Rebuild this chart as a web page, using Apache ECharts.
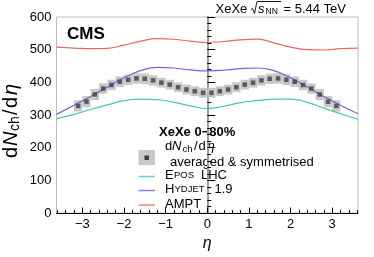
<!DOCTYPE html>
<html><head><meta charset="utf-8">
<script src="https://cdn.jsdelivr.net/npm/echarts@6/dist/echarts.min.js"></script>
<style>html,body{margin:0;padding:0;background:#fff}#c{width:374px;height:257px}</style>
</head><body><div id="c"></div>
<script>
// ---- data ----
const etaPoints = [-3.1,-2.9,-2.7,-2.5,-2.3,-2.1,-1.9,-1.7,-1.5,-1.3,-1.1,-0.9,-0.7,-0.5,-0.3,-0.1,
                   0.1,0.3,0.5,0.7,0.9,1.1,1.3,1.5,1.7,1.9,2.1,2.3,2.5,2.7,2.9,3.1];
const dataValues = [328,341,363,381,392,402,408,412,411,406,399,393,385,378,373,368,
                    368,373,378,385,393,399,406,411,412,408,402,392,381,363,341,328];
const dataErrors = [17,17,17,16,16,16,16,16,16,16,15,15,15,15,15,15,
                    15,15,15,15,15,15,16,16,16,16,16,16,16,17,17,17];
const modelEta = [-3.62,-3.2,-2.8,-2.4,-2.0,-1.6,-1.2,-0.8,-0.4,0,0.4,0.8,1.2,1.6,2.0,2.4,2.8,3.2,3.62];
const eposValues   = [289,302,317,331,344,349,347,339,328,320,327,338,344,349,349,339,321,304,287];
const hydjetValues = [302,330,357,385,414,436,446,444,438,435,437,442,444,436,414,386,357,330,304];
const amptValues   = [508,505,503,504,514,526,534,532,526,522,525,530,532,521,508,500,499,503,505];
const xMajorTicks = [-3,-2,-1,0,1,2,3];
const yTicks = [0,100,200,300,400,500,600];

const xMinorTicks = [];
for (let i = -18; i <= 18; i++) { if (i % 5 !== 0) xMinorTicks.push(Math.round(i*2)/10); }

const C_EPOS = '#3ccf9e', C_HYD = '#7a5fe0', C_AMPT = '#f4645c';
const FONT = '"Liberation Sans", Arial, Helvetica, sans-serif';

function zip(xs, ys) { return xs.map((x, i) => [x, ys[i]]); }

const XMIN = -3.62, XMAX = 3.62;
const chart = echarts.init(document.getElementById('c'));

const txt = (x, y, text, size, opts = {}) => ({
  type: 'text', x, y, silent: true,
  style: { text, fontSize: size, fontFamily: FONT,
    fontStyle: opts.italic ? 'italic' : 'normal', fontWeight: opts.bold ? 'bold' : 'normal',
    fill: opts.fill || '#000', textAlign: opts.align || 'left', textVerticalAlign: 'middle' }
});

chart.setOption({
  animation: false,
  grid: { left: 56.5, right: 16, top: 17, bottom: 34, show: true, borderColor: '#bdbdbd', borderWidth: 1 },
  xAxis: [
    { type: 'value', min: XMIN, max: XMAX, splitLine: { show: false },
      axisLine: { onZero: false, lineStyle: { color: '#000', width: 1 } },
      axisTick: { inside: true, length: 5.5, customValues: xMajorTicks, lineStyle: { color: '#000' } },
      axisLabel: { customValues: xMajorTicks, fontSize: 13, color: '#000', fontFamily: FONT, margin: 5,
        formatter: v => String(v).replace('-', '\u2212') },
      name: 'η', nameLocation: 'middle', nameGap: 22,
      nameTextStyle: { fontSize: 16, fontStyle: 'italic', color: '#000', fontFamily: FONT } },
    { type: 'value', min: XMIN, max: XMAX, splitLine: { show: false }, gridIndex: 0, position: 'bottom',
      axisLine: { show: false },
      axisTick: { inside: true, length: 3, customValues: xMinorTicks, lineStyle: { color: '#000' } },
      axisLabel: { show: false } }
  ],
  yAxis: [
    { type: 'value', min: 0, max: 600, interval: 100, splitLine: { show: false },
      axisLine: { show: true, lineStyle: { color: '#000', width: 1 } },
      axisTick: { inside: true, length: 8, lineStyle: { color: '#000' } },
      minorTick: { show: true, splitNumber: 5, length: 4, lineStyle: { color: '#000' } },
      axisLabel: { fontSize: 13, color: '#000', fontFamily: FONT, margin: 5, customValues: yTicks } },
    { type: 'value', min: 0, max: 600, position: 'right', splitLine: { show: false },
      axisLine: { show: true, lineStyle: { color: '#9c9c9c', width: 2 } },
      axisTick: { show: false }, axisLabel: { show: false } }
  ],
  series: [
    { type: 'custom', z: 1, silent: true, xAxisIndex: 0, yAxisIndex: 0,
      data: etaPoints.map((x, i) => [x, dataValues[i], dataErrors[i]]),
      encode: { x: 0, y: 1 },
      renderItem: (params, api) => {
        const x = api.value(0), y = api.value(1), e = api.value(2);
        const p1 = api.coord([x - 0.1, y + e]), p2 = api.coord([x + 0.1, y - e]);
        return { type: 'rect', shape: { x: p1[0], y: p1[1], width: p2[0] - p1[0], height: p2[1] - p1[1] },
                 style: { fill: '#c8c8c8' } };
      } },
    { type: 'line', z: 2, data: zip(modelEta, eposValues), smooth: 0.5, showSymbol: false,
      lineStyle: { color: C_EPOS, width: 1.2 } },
    { type: 'line', z: 2, data: zip(modelEta, hydjetValues), smooth: 0.5, showSymbol: false,
      lineStyle: { color: C_HYD, width: 1.2 } },
    { type: 'line', z: 2, data: zip(modelEta, amptValues), smooth: 0.5, showSymbol: false,
      lineStyle: { color: C_AMPT, width: 1.2 } },
    { type: 'scatter', z: 3, data: zip(etaPoints, dataValues), symbol: 'rect', symbolSize: 4.5,
      itemStyle: { color: '#3f3f3f' } }
  ],
  graphic: [
    // header
    txt(215.5, 9, 'XeXe', 13),
    { type: 'polyline', silent: true, shape: { points: [[251, 9.5], [252.5, 8.5], [254.5, 13.5], [257, 1.5], [281, 1.5]] },
      style: { stroke: '#000', lineWidth: 0.9, fill: null } },
    txt(258, 9, 's', 13, { italic: true }),
    txt(265.5, 12, 'NN', 8.5),
    txt(283.5, 9, '= 5.44 TeV', 13),
    // CMS
    txt(67, 34, 'CMS', 17, { bold: true }),
    // y axis title (rotated)
    { type: 'group', x: 11, y: 158, rotation: Math.PI / 2, silent: true, children: [
      txt(0, 0, 'd', 20), txt(12, 0, 'N', 20, { italic: true }), txt(27, 4, 'ch', 14),
      txt(43, 0, '/', 20), txt(50, 0, 'd', 20), txt(63, 0, 'η', 20, { italic: true })
    ] },
    // legend
    txt(159, 132, 'XeXe 0\u221280%', 13, { bold: true }),
    { type: 'rect', silent: true, shape: { x: 138.5, y: 150, width: 16.5, height: 15 }, style: { fill: '#c8c8c8' } },
    { type: 'rect', silent: true, shape: { x: 144.5, y: 155.5, width: 4.5, height: 4.5 }, style: { fill: '#3f3f3f' } },
    txt(165, 146.5, 'd', 13), txt(172, 146.5, 'N', 13, { italic: true }), txt(182.5, 149, 'ch', 9.5),
    txt(194, 146.5, '/', 13), txt(198.5, 146.5, 'd', 13), txt(207.5, 146.5, 'η', 13, { italic: true }),
    txt(170, 162, 'averaged & symmetrised', 13),
    { type: 'line', silent: true, shape: { x1: 138.5, y1: 176.5, x2: 155, y2: 176.5 }, style: { stroke: C_EPOS, lineWidth: 1.5, opacity: 0.8 } },
    txt(165, 175, 'E', 13), txt(174, 175.5, 'POS', 9.5), txt(201, 175, 'LHC', 13),
    { type: 'line', silent: true, shape: { x1: 138.5, y1: 190.5, x2: 155, y2: 190.5 }, style: { stroke: C_HYD, lineWidth: 1.5, opacity: 0.8 } },
    txt(165, 189, 'H', 13), txt(174.5, 189.5, 'YDJET', 9.5), txt(214.5, 189, '1.9', 13),
    { type: 'line', silent: true, shape: { x1: 138.5, y1: 205, x2: 155, y2: 205 }, style: { stroke: C_AMPT, lineWidth: 1.5, opacity: 0.8 } },
    txt(165, 204, 'AMPT', 13)
  ]
});
</script>
</body></html>
